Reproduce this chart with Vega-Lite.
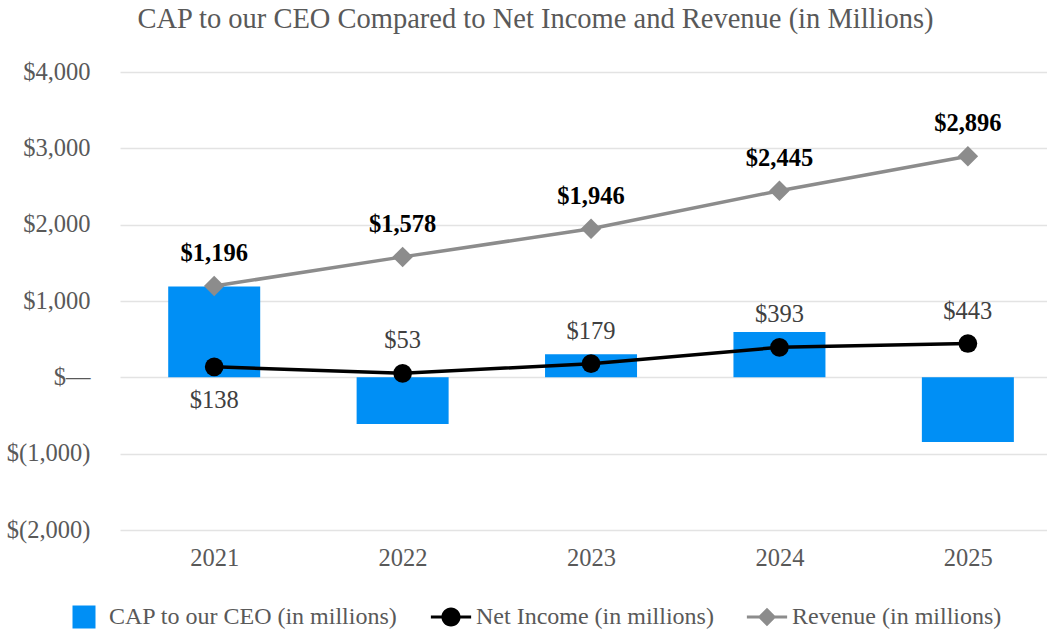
{
  "$schema": "https://vega.github.io/schema/vega-lite/v6.json",
  "autosize": {"type": "none"},
  "width": 927,
  "height": 458,
  "padding": {"left": 120, "top": 72, "right": 0, "bottom": 100},
  "background": "white",
  "title": {
    "text": "CAP to our CEO Compared to Net Income and Revenue (in Millions)",
    "font": "Liberation Serif",
    "fontSize": 28.5,
    "fontWeight": "normal",
    "color": "#595959",
    "anchor": "middle",
    "dx": -48,
    "baseline": "alphabetic",
    "offset": 3
  },
  "config": {
    "view": {"stroke": null},
    "font": "Liberation Serif"
  },
  "data": {
    "values": [
      {"year": 2021, "series": "CAP to our CEO (in millions)", "value": 1190},
      {"year": 2022, "series": "CAP to our CEO (in millions)", "value": -612},
      {"year": 2023, "series": "CAP to our CEO (in millions)", "value": 301},
      {"year": 2024, "series": "CAP to our CEO (in millions)", "value": 594},
      {"year": 2025, "series": "CAP to our CEO (in millions)", "value": -846},
      {"year": 2021, "series": "Net Income (in millions)", "value": 138},
      {"year": 2022, "series": "Net Income (in millions)", "value": 53},
      {"year": 2023, "series": "Net Income (in millions)", "value": 179},
      {"year": 2024, "series": "Net Income (in millions)", "value": 393},
      {"year": 2025, "series": "Net Income (in millions)", "value": 443},
      {"year": 2021, "series": "Revenue (in millions)", "value": 1196},
      {"year": 2022, "series": "Revenue (in millions)", "value": 1578},
      {"year": 2023, "series": "Revenue (in millions)", "value": 1946},
      {"year": 2024, "series": "Revenue (in millions)", "value": 2445},
      {"year": 2025, "series": "Revenue (in millions)", "value": 2896}
    ]
  },
  "encoding": {
    "x": {
      "field": "year",
      "type": "quantitative",
      "scale": {"domain": [2020.5, 2025.42], "nice": false, "zero": false, "padding": 0},
      "axis": {
        "values": [2021, 2022, 2023, 2024, 2025],
        "format": "d",
        "title": null,
        "grid": false,
        "domain": false,
        "ticks": false,
        "labelFont": "Liberation Serif",
        "labelFontSize": 24.5,
        "labelColor": "#595959",
        "labelPadding": 16
      }
    },
    "y": {
      "field": "value",
      "type": "quantitative",
      "scale": {"domain": [-2000, 4000], "nice": false},
      "axis": {
        "values": [-2000, -1000, 0, 1000, 2000, 3000, 4000],
        "title": null,
        "domain": false,
        "ticks": false,
        "grid": true,
        "gridColor": "#e3e3e3",
        "gridWidth": 1.5,
        "labelFont": "Liberation Serif",
        "labelFontSize": 24.5,
        "labelColor": "#595959",
        "labelPadding": 30,
        "labelExpr": "datum.value == 0 ? '$\u2014' : (datum.value < 0 ? '$(' + format(-datum.value, ',') + ')' : '$' + format(datum.value, ','))"
      }
    }
  },
  "layer": [
    {
      "transform": [{"filter": "datum.series == 'CAP to our CEO (in millions)'"}],
      "mark": {"type": "bar", "size": 92},
      "encoding": {
        "color": {
          "field": "series",
          "type": "nominal",
          "scale": {
            "domain": ["CAP to our CEO (in millions)", "Net Income (in millions)", "Revenue (in millions)"],
            "range": ["#008ff5", "#000000", "#8c8c8c"]
          },
          "legend": {
            "title": null,
            "orient": "none",
            "legendX": -48,
            "legendY": 533,
            "direction": "horizontal",
            "padding": 0,
            "symbolSize": 529,
            "symbolStrokeWidth": 0,
            "labelFont": "Liberation Serif",
            "labelFontSize": 24,
            "labelColor": "#595959",
            "labelLimit": 500,
            "labelOffset": 13,
            "columnPadding": 32,
            "encode": {
              "symbols": {
                "update": {
                  "shape": {"signal": "datum.value == 'Net Income (in millions)' ? 'M-1.75,-0.13L1.75,-0.13L1.75,0.13L-1.75,0.13Z M-0.83,0A0.83,0.83 0 1,1 0.83,0A0.83,0.83 0 1,1 -0.83,0Z' : (datum.value == 'Revenue (in millions)' ? 'M-1.75,-0.13L1.75,-0.13L1.75,0.13L-1.75,0.13Z M0,-0.8L0.8,0L0,0.8L-0.8,0Z' : 'square')"}
                }
              }
            }
          }
        }
      }
    },
    {
      "transform": [{"filter": "datum.series == 'Revenue (in millions)'"}],
      "mark": {"type": "line", "color": "#8c8c8c", "strokeWidth": 3.5}
    },
    {
      "transform": [{"filter": "datum.series == 'Revenue (in millions)'"}],
      "mark": {"type": "point", "shape": "diamond", "filled": true, "color": "#8c8c8c", "size": 420, "opacity": 1}
    },
    {
      "transform": [{"filter": "datum.series == 'Revenue (in millions)'"}],
      "mark": {"type": "text", "baseline": "alphabetic", "dy": -25, "font": "Liberation Serif", "fontSize": 24.5, "fontWeight": "bold", "color": "#000000"},
      "encoding": {"text": {"field": "value", "type": "quantitative", "format": "$,.0f"}}
    },
    {
      "transform": [{"filter": "datum.series == 'Net Income (in millions)'"}],
      "mark": {"type": "line", "color": "#000000", "strokeWidth": 3.5}
    },
    {
      "transform": [{"filter": "datum.series == 'Net Income (in millions)'"}],
      "mark": {"type": "point", "shape": "circle", "filled": true, "color": "#000000", "size": 350, "opacity": 1}
    },
    {
      "transform": [{"filter": "datum.series == 'Net Income (in millions)' && datum.year != 2021"}],
      "mark": {"type": "text", "baseline": "alphabetic", "dy": -25, "font": "Liberation Serif", "fontSize": 24.5, "color": "#404040"},
      "encoding": {"text": {"field": "value", "type": "quantitative", "format": "$,.0f"}}
    },
    {
      "transform": [{"filter": "datum.series == 'Net Income (in millions)' && datum.year == 2021"}],
      "mark": {"type": "text", "baseline": "alphabetic", "dy": 41, "font": "Liberation Serif", "fontSize": 24.5, "color": "#404040"},
      "encoding": {"text": {"field": "value", "type": "quantitative", "format": "$,.0f"}}
    }
  ]
}
